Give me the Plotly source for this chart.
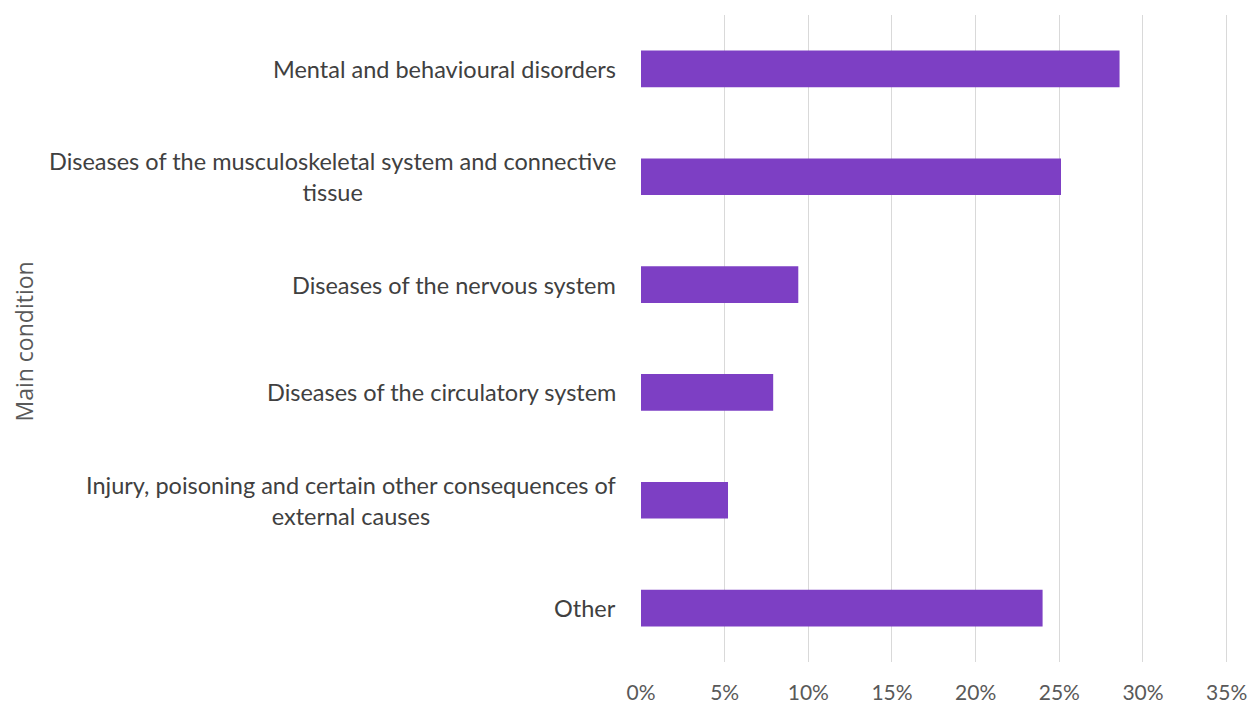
import plotly.graph_objects as go

categories = [
    "Mental and behavioural disorders",
    "Diseases of the musculoskeletal system and connective<br>tissue",
    "Diseases of the nervous system",
    "Diseases of the circulatory system",
    "Injury, poisoning and certain other consequences of<br>external causes",
    "Other",
]
values = [0.286, 0.251, 0.094, 0.079, 0.052, 0.240]
x_ticks = [0, 0.05, 0.10, 0.15, 0.20, 0.25, 0.30, 0.35]
x_tick_labels = ["0%", "5%", "10%", "15%", "20%", "25%", "30%", "35%"]
y_title = "Main condition"

# page has an 8px body margin; size figure to fit the window
W, H = 1248, 701
L, R, T, B = 633, 26, 7, 47

fig = go.Figure()
fig.add_trace(go.Bar(
    x=values, y=categories, orientation="h",
    marker=dict(color="#7D3FC4", line=dict(width=0)),
    width=0.34,
))

annotations = []
for c in categories:
    annotations.append(dict(
        x=0, xref="paper", y=c, yref="y", text=c, showarrow=False,
        xanchor="right", yanchor="middle", align="center", xshift=-23,
        font=dict(family="Lato", size=23.5, color="#404040"),
    ))
annotations.append(dict(
    x=(15 - L) / (W - L - R), xref="paper", y=0.5, yref="paper", yshift=-3,
    text=y_title, showarrow=False, textangle=-90,
    xanchor="center", yanchor="middle",
    font=dict(family="Open Sans", size=23, color="#595959"),
))

fig.update_layout(
    width=W, height=H,
    margin=dict(l=L, r=R, t=T, b=B, autoexpand=False),
    paper_bgcolor="white", plot_bgcolor="white",
    showlegend=False,
    annotations=annotations,
    xaxis=dict(
        range=[0, 0.352], tickvals=x_ticks, ticktext=x_tick_labels,
        showgrid=True, gridcolor="#D9D9D9", gridwidth=1,
        zeroline=False, showline=False, automargin=False,
        ticks="outside", ticklen=12, tickcolor="rgba(0,0,0,0)",
        tickfont=dict(family="Lato", size=21, color="#595959"),
    ),
    yaxis=dict(
        categoryorder="array", categoryarray=categories[::-1],
        showticklabels=False, showgrid=False, zeroline=False, showline=False,
        automargin=False, autorange=False, range=[-0.5, 5.5],
    ),
)

fig.write_html("out.html")
